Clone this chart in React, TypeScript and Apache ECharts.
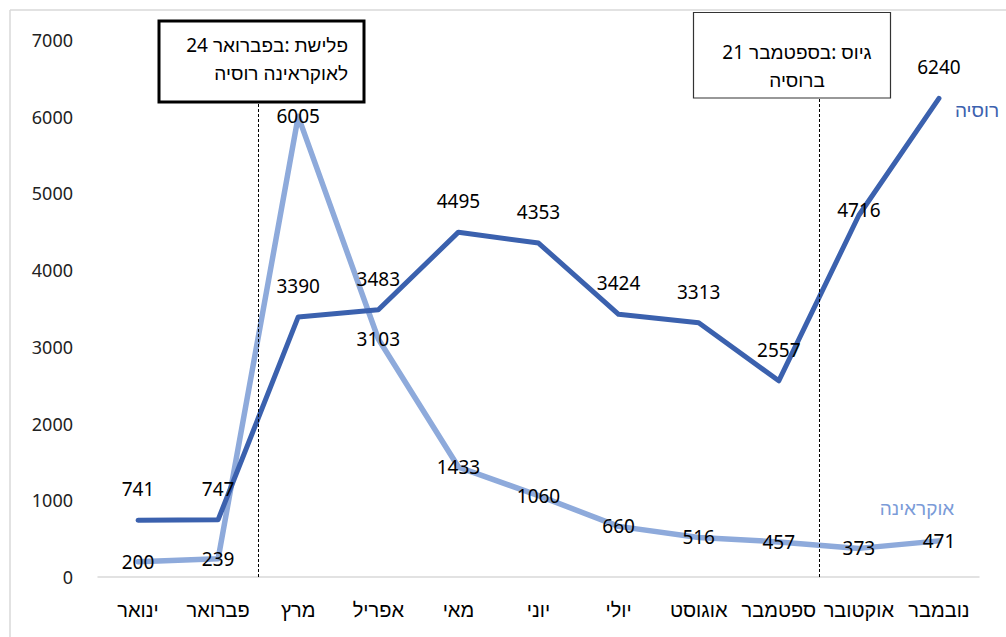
import React, { useEffect, useRef } from "react";
import * as echarts from "echarts";

const categories = ["ינואר", "פברואר", "מרץ", "אפריל", "מאי", "יוני", "יולי", "אוגוסט", "ספטמבר", "אוקטובר", "נובמבר"];
const russia = [741, 747, 3390, 3483, 4495, 4353, 3424, 3313, 2557, 4716, 6240];
const ukraine = [200, 239, 6005, 3103, 1433, 1060, 660, 516, 457, 373, 471];
const eventPositions = [1.5, 8.5];
const note1Line1 = ["24", " ", "בפברואר", ":", " ", "פלישת"];
const note1Line2 = ["רוסיה", " ", "לאוקראינה"];
const note2Line1 = ["21", " ", "בספטמבר", ":", " ", "גיוס"];
const note2Line2 = ["ברוסיה"];

const RU = "#3b61ae";
const UA = "#8eaadb";
const FONT = "'Noto Sans', 'Liberation Sans', 'DejaVu Sans', sans-serif";
const NOTE_FONT = "19px " + FONT;

function wordLine(pieces: string[], anchorX: number, y: number, align: "right" | "center") {
  const ctx = document.createElement("canvas").getContext("2d")!;
  ctx.font = NOTE_FONT;
  const widths = pieces.map((p) => ctx.measureText(p).width);
  const total = widths.reduce((a, b) => a + b, 0);
  let x = align === "right" ? anchorX - total : anchorX - total / 2;
  const out: any[] = [];
  pieces.forEach((p, i) => {
    if (p.trim() !== "") {
      out.push({
        type: "text",
        z: 101,
        x,
        y,
        style: { text: p, font: NOTE_FONT, fill: "#000", align: "left", verticalAlign: "middle" },
      });
    }
    x += widths[i];
  });
  return out;
}

export default function App() {
  const ref = useRef<HTMLDivElement>(null);
  useEffect(() => {
    if (!ref.current) return;
    const chart = echarts.init(ref.current, undefined, { renderer: "svg" });
    chart.setOption({
      animation: false,
      backgroundColor: "#ffffff",
      textStyle: { fontFamily: FONT },
      grid: { left: 98, right: 27, top: 40, bottom: 60 },
      xAxis: [
        {
          type: "category",
          data: categories,
          boundaryGap: true,
          axisLine: { lineStyle: { color: "#d9d9d9", width: 1.5 } },
          axisTick: { alignWithLabel: true, inside: true, length: 5, lineStyle: { color: "#d9d9d9", width: 1.5 } },
          axisLabel: { color: "#000", fontSize: 20, margin: 22, fontFamily: FONT, interval: 0 },
        },
        { type: "value", min: -0.5, max: 10.5, show: false },
      ],
      yAxis: {
        type: "value",
        min: 0,
        max: 7000,
        interval: 1000,
        axisLine: { show: false },
        axisTick: { show: false },
        splitLine: { show: false },
        axisLabel: { color: "#222", fontSize: 18, margin: 25, fontFamily: FONT, formatter: (v: number) => String(v) },
      },
      series: [
        {
          type: "line",
          data: [],
          xAxisIndex: 1,
          silent: true,
          markLine: {
            silent: true,
            symbol: "none",
            label: { show: false },
            lineStyle: { color: "#000", width: 1, type: [3, 2] },
            data: eventPositions.map((v) => ({ xAxis: v })),
          },
        },
        {
          name: "אוקראינה",
          type: "line",
          data: ukraine,
          symbol: "circle",
          symbolSize: 1,
          itemStyle: { color: UA },
          lineStyle: { color: UA, width: 5.5, cap: "round", join: "round" },
          label: { show: true, position: "inside", color: "#000", fontSize: 19, fontFamily: FONT },
          z: 3,
        },
        {
          name: "רוסיה",
          type: "line",
          data: russia.map((v, i) =>
            i === 9
              ? { value: v, label: { position: "inside", offset: [0, -5] } }
              : v
          ),
          symbol: "circle",
          symbolSize: 1,
          itemStyle: { color: RU },
          lineStyle: { color: RU, width: 5, cap: "round", join: "round" },
          label: { show: true, position: "top", distance: 21, color: "#000", fontSize: 19, fontFamily: FONT },
          z: 4,
        },
      ],
      graphic: [
        { type: "line", z: 1, shape: { x1: 10, y1: 10, x2: 1006, y2: 10 }, style: { stroke: "#d9d9d9", lineWidth: 1.5 } },
        { type: "line", z: 1, shape: { x1: 10, y1: 10, x2: 10, y2: 637 }, style: { stroke: "#d9d9d9", lineWidth: 1.5 } },
        {
          type: "rect",
          z: 100,
          shape: { x: 159, y: 21, width: 205, height: 81 },
          style: { fill: "#fff", stroke: "#000", lineWidth: 3 },
        },
        ...wordLine(note1Line1, 348, 45, "right"),
        ...wordLine(note1Line2, 348, 73, "right"),
        {
          type: "rect",
          z: 100,
          shape: { x: 693.5, y: 12.5, width: 197, height: 85.5 },
          style: { fill: "#fff", stroke: "#333", lineWidth: 1.2 },
        },
        ...wordLine(note2Line1, 797, 52, "center"),
        ...wordLine(note2Line2, 797, 80, "center"),
        {
          type: "text",
          z: 101,
          x: 977,
          y: 110,
          style: { text: "רוסיה", font: NOTE_FONT, fill: RU, align: "center", verticalAlign: "middle" },
        },
        {
          type: "text",
          z: 101,
          x: 917,
          y: 508,
          style: { text: "אוקראינה", font: NOTE_FONT, fill: "#7b9bd8", align: "center", verticalAlign: "middle" },
        },
      ],
    });
    return () => chart.dispose();
  }, []);
  return <div ref={ref} style={{ width: 1006, height: 637, position: "absolute", left: 0, top: 0 }} />;
}
